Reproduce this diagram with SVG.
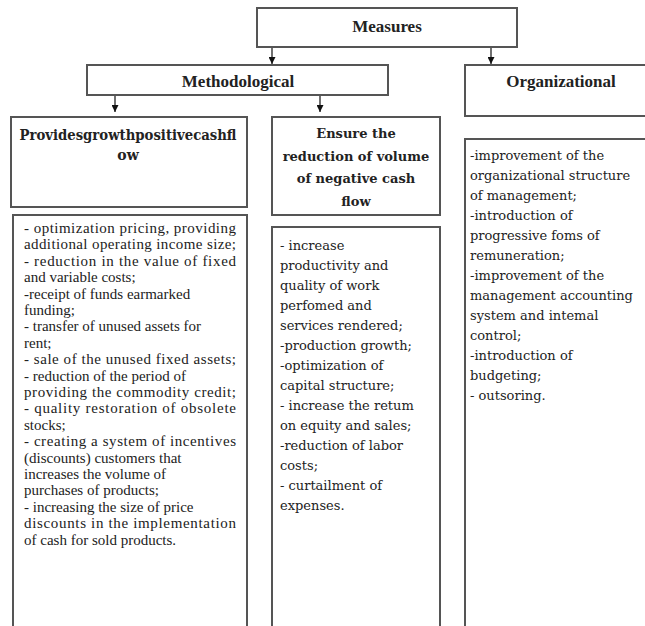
<svg xmlns="http://www.w3.org/2000/svg" width="645" height="626" viewBox="0 0 645 626">
<defs>
<style>
.box{fill:#fff;stroke:#555;stroke-width:2}
.hd{font-family:"Liberation Serif","Times New Roman",serif;font-weight:bold;font-size:17px;fill:#222;text-anchor:middle}
.sh{font-family:"DejaVu Serif",Cambria,serif;font-weight:bold;font-size:13px;fill:#222;text-anchor:middle}
.lt{font-family:"Liberation Serif","Times New Roman",serif;font-size:15px;fill:#222}
.ct{font-family:"DejaVu Serif",Cambria,serif;font-size:13px;fill:#222}
.conn{stroke:#111;stroke-width:1.2;fill:none}
</style>
<marker id="ah" viewBox="0 0 10 10" refX="10" refY="5" markerWidth="7" markerHeight="7" markerUnits="userSpaceOnUse" orient="auto">
<path d="M0,0 L10,5 L0,10 Z" fill="#111"/>
</marker>
</defs>
<rect width="645" height="626" fill="#fff"/>
<g id="connectors">
<line class="conn" x1="272" y1="48" x2="272" y2="64" marker-end="url(#ah)"/>
<line class="conn" x1="491" y1="48" x2="491" y2="64" marker-end="url(#ah)"/>
<line class="conn" x1="115" y1="96" x2="115" y2="112" marker-end="url(#ah)"/>
<line class="conn" x1="320" y1="96" x2="320" y2="112" marker-end="url(#ah)"/>
</g>
<g id="measures">
<rect class="box" x="257" y="8" width="260" height="39"/>
<text class="hd" x="387" y="32">Measures</text>
</g>
<g id="methodological">
<rect class="box" x="87" y="65" width="301" height="30"/>
<text class="hd" x="238" y="87">Methodological</text>
</g>
<g id="organizational">
<rect class="box" x="465" y="65" width="190" height="51"/>
<text class="hd" x="561" y="87">Organizational</text>
</g>
<g id="positive">
<rect class="box" x="11" y="117" width="236" height="90"/>
<text class="sh" x="128" y="140" style="font-size:14px" textLength="217" lengthAdjust="spacingAndGlyphs">Providesgrowthpositivecashfl</text>
<text class="sh" x="128" y="160" style="font-size:14px">ow</text>
</g>
<g id="negative">
<rect class="box" x="272" y="117" width="168" height="98"/>
<text class="sh" x="356" y="138">Ensure the</text>
<text class="sh" x="356" y="161">reduction of volume</text>
<text class="sh" x="356" y="183">of negative cash</text>
<text class="sh" x="356" y="206">flow</text>
</g>
<g id="positive-list">
<rect class="box" x="13" y="215" width="234" height="420"/>
<text class="lt" x="24" y="233" textLength="212" lengthAdjust="spacing">- optimization pricing, providing</text>
<text class="lt" x="24" y="249.4" textLength="212" lengthAdjust="spacing">additional operating income size;</text>
<text class="lt" x="24" y="265.8" textLength="212" lengthAdjust="spacing">- reduction in the value of fixed</text>
<text class="lt" x="24" y="282.2">and variable costs;</text>
<text class="lt" x="24" y="298.6">-receipt of funds earmarked</text>
<text class="lt" x="24" y="315">funding;</text>
<text class="lt" x="24" y="331.4">- transfer of unused assets for</text>
<text class="lt" x="24" y="347.8">rent;</text>
<text class="lt" x="24" y="364.2" textLength="212" lengthAdjust="spacing">- sale of the unused fixed assets;</text>
<text class="lt" x="24" y="380.6">- reduction of the period of</text>
<text class="lt" x="24" y="397" textLength="212" lengthAdjust="spacing">providing the commodity credit;</text>
<text class="lt" x="24" y="413.4" textLength="212" lengthAdjust="spacing">- quality restoration of obsolete</text>
<text class="lt" x="24" y="429.8">stocks;</text>
<text class="lt" x="24" y="446.2" textLength="212" lengthAdjust="spacing">- creating a system of incentives</text>
<text class="lt" x="24" y="462.6">(discounts) customers that</text>
<text class="lt" x="24" y="479">increases the volume of</text>
<text class="lt" x="24" y="495.4">purchases of products;</text>
<text class="lt" x="24" y="511.8">- increasing the size of price</text>
<text class="lt" x="24" y="528.2" textLength="212" lengthAdjust="spacing">discounts in the implementation</text>
<text class="lt" x="24" y="544.6">of cash for sold products.</text>
</g>
<g id="negative-list">
<rect class="box" x="272" y="227" width="168" height="410"/>
<text class="ct" x="280" y="250">- increase</text>
<text class="ct" x="280" y="270">productivity and</text>
<text class="ct" x="280" y="290">quality of work</text>
<text class="ct" x="280" y="310">perfomed and</text>
<text class="ct" x="280" y="330">services rendered;</text>
<text class="ct" x="280" y="350">-production growth;</text>
<text class="ct" x="280" y="370">-optimization of</text>
<text class="ct" x="280" y="390">capital structure;</text>
<text class="ct" x="280" y="410">- increase the retum</text>
<text class="ct" x="280" y="430">on equity and sales;</text>
<text class="ct" x="280" y="450">-reduction of labor</text>
<text class="ct" x="280" y="470">costs;</text>
<text class="ct" x="280" y="490">- curtailment of</text>
<text class="ct" x="280" y="510">expenses.</text>
</g>
<g id="organizational-list">
<rect class="box" x="465" y="139" width="190" height="500"/>
<text class="ct" x="470" y="160">-improvement of the</text>
<text class="ct" x="470" y="180">organizational structure</text>
<text class="ct" x="470" y="200">of management;</text>
<text class="ct" x="470" y="220">-introduction of</text>
<text class="ct" x="470" y="240">progressive foms of</text>
<text class="ct" x="470" y="260">remuneration;</text>
<text class="ct" x="470" y="280">-improvement of the</text>
<text class="ct" x="470" y="300">management accounting</text>
<text class="ct" x="470" y="320">system and intemal</text>
<text class="ct" x="470" y="340">control;</text>
<text class="ct" x="470" y="360">-introduction of</text>
<text class="ct" x="470" y="380">budgeting;</text>
<text class="ct" x="470" y="400">- outsoring.</text>
</g>
</svg>
